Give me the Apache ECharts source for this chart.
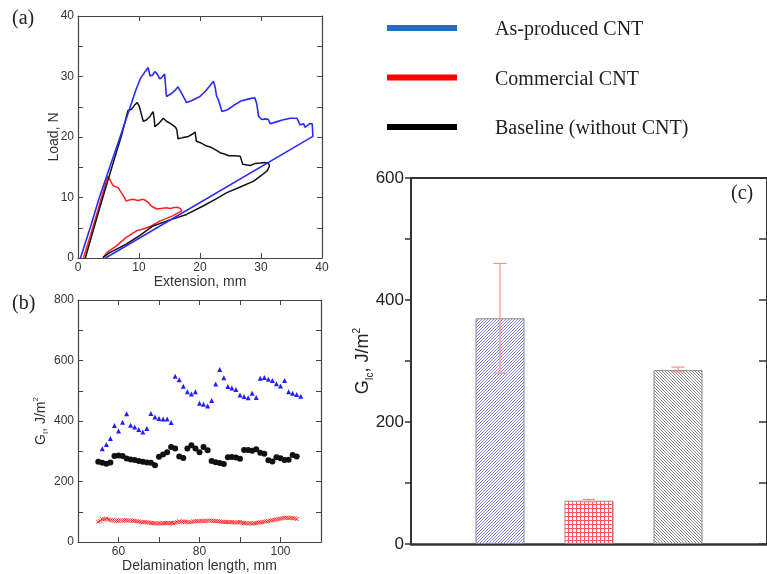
<!DOCTYPE html>
<html>
<head>
<meta charset="utf-8">
<script src="https://cdn.jsdelivr.net/npm/echarts@6/dist/echarts.min.js"></script>
<style>
  html, body { margin: 0; padding: 0; background: #fff; }
  #main { width: 767px; height: 574px; }
</style>
</head>
<body>
<div id="main"></div>
<script>
// (a) 载荷-位移曲线 [extension mm, load N]
const loadBlue = [[0.4,0],[2,5],[3.5,10],[5.2,15],[7,20.3],[8.5,24.8],[9.5,27.8],[10.2,29.6],[11,30.8],[11.5,31.5],[11.7,31.3],[11.8,30.1],[12.2,30.2],[12.6,30.8],[13,30.4],[13.4,29.6],[13.8,29.9],[14.2,30.4],[14.4,30.2],[14.5,26.7],[15.2,27.1],[16,27.8],[16.4,28.3],[16.6,27.9],[17,27.2],[17.8,25.7],[18.6,26],[20,26.7],[21,27.7],[22.2,29.2],[22.5,28.2],[22.7,26.8],[23,26.2],[23.3,25.2],[23.6,24.2],[24.5,24.5],[25.5,25.2],[26.6,25.9],[28,26.3],[29,26.5],[29.3,25.5],[29.6,23.4],[30.1,22.9],[30.8,23],[31.2,22.9],[31.5,22.2],[32.5,22.5],[33.5,22.8],[34.8,23.1],[35.9,23.1],[36.2,22.8],[36.4,22],[37,22.2],[37.2,21.6],[38,22.2],[38.4,22.2],[38.5,20.1],[4.5,0]];
const loadRed = [[0.9,0],[2,3.6],[3,7],[4,10.5],[4.6,12.6],[4.9,13.5],[5.2,13],[5.5,12.4],[5.8,11.9],[6.2,11.8],[6.6,11.6],[7.1,10.8],[7.5,10.2],[7.9,9.4],[8.4,9.6],[9,9.7],[9.8,9.5],[10.7,9.7],[11.1,9.5],[11.5,9.2],[12,8.6],[12.3,8.3],[12.9,8.1],[13.6,8.2],[14.5,8.3],[15.1,8.2],[15.6,8.3],[16.2,8.4],[16.8,8.2],[17,7.8],[15.6,7],[13.4,6.1],[11.8,5.2],[10.7,4.8],[9.6,4.5],[7.9,3.4],[6.3,2],[4.7,0.9],[4.1,0]];
const loadBlack = [[1.2,0],[2,2.8],[3.2,7],[4.5,11.5],[6,16.5],[7.2,20.5],[8.2,24.4],[8.8,24.6],[9.3,25.3],[9.7,25.7],[10,25.2],[10.2,24.5],[10.4,23.7],[10.7,22.6],[11.2,22.8],[11.8,23.4],[12.3,24.2],[12.5,23],[12.6,21.7],[13.2,22.2],[14,23.1],[14.2,23.4],[14.5,22.6],[15.2,22.2],[16,21.6],[16.2,21.2],[16.4,19.7],[17.2,19.9],[18.1,20.1],[18.8,20.5],[19.2,20.8],[19.4,19.3],[20.2,19],[21.1,18.5],[21.8,18.3],[22.5,17.9],[23.3,17.4],[24,17.2],[24.7,16.9],[25.6,16.9],[26.6,16.8],[27,15.5],[28.2,15.3],[29,15.6],[29.9,15.7],[30.6,15.8],[31.2,15.7],[31.4,15.2],[31,14.4],[30,13.6],[28.8,12.7],[26.5,11.7],[24.4,10.8],[22.5,9.7],[20.5,8.6],[17.8,7.2],[15.1,6.3],[12.3,5.3],[10.1,3.7],[7.9,2.3],[5.2,0.9],[4.1,0.1]];

// (b) G_I vs 分层长度 [mm, J/m2]
const giBlue = [[56,308],[57,322],[58,342],[59,385],[60,367],[61,396],[62,424],[63,386],[64,380],[65,372],[66,364],[67,375],[68,425],[69,413],[70,408],[71,407],[72,407],[73,395],[74,548],[75,536],[76,515],[77,497],[78,489],[79,497],[80,459],[81,455],[82,450],[83,468],[84,522],[85,570],[86,543],[87,514],[88,509],[89,504],[90,486],[91,481],[92,477],[93,492],[94,478],[95,541],[96,544],[97,538],[98,534],[99,523],[100,516],[101,534],[102,497],[103,492],[104,488],[105,482]];
const giBlack = [[55,265],[56,262],[57,259],[58,263],[59,284],[60,286],[61,284],[62,276],[63,273],[64,271],[65,268],[66,265],[67,263],[68,262],[69,254],[70,282],[71,289],[72,297],[73,314],[74,309],[75,283],[76,278],[77,309],[78,320],[79,309],[80,297],[81,314],[82,303],[83,268],[84,264],[85,261],[86,258],[87,280],[88,281],[89,279],[90,275],[91,304],[92,304],[93,302],[94,307],[95,295],[96,292],[97,270],[98,266],[99,280],[100,277],[101,271],[102,272],[103,288],[104,283]];
const giRed = [[55,67],[55.5,70],[56,75],[56.5,76],[57,77],[57.5,75],[58,72],[58.5,71],[59,71],[59.5,71],[60,70],[60.5,71],[61,71],[61.5,72],[62,72],[62.5,71],[63,71],[63.5,70],[64,70],[64.5,69],[65,68],[65.5,66],[66,65],[66.5,66],[67,65],[67.5,64],[68,63],[68.5,62],[69,62],[69.5,61],[70,62],[70.5,61],[71,62],[71.5,63],[72,62],[72.5,62],[73,63],[73.5,62],[74,64],[74.5,66],[75,68],[75.5,67],[76,68],[76.5,67],[77,66],[77.5,65],[78,66],[78.5,68],[79,69],[79.5,69],[80,69],[80.5,70],[81,69],[81.5,70],[82,70],[82.5,71],[83,70],[83.5,70],[84,69],[84.5,69],[85,68],[85.5,67],[86,67],[86.5,66],[87,66],[87.5,65],[88,66],[88.5,65],[89,64],[89.5,65],[90,66],[90.5,64],[91,63],[91.5,62],[92,61],[92.5,62],[93,61],[93.5,62],[94,63],[94.5,64],[95,65],[95.5,66],[96,67],[96.5,68],[97,69],[97.5,71],[98,72],[98.5,73],[99,75],[99.5,76],[100,77],[100.5,79],[101,80],[101.5,80],[102,79],[102.5,80],[103,79],[103.5,78],[104,76]];

// (c) G_Ic 柱状图
const gicPos = [1, 2, 3];
const gicMean = [370, 71, 285];
const gicLow = [280, 69, 282];
const gicHigh = [460, 73, 290];

const legendNames = ['As-produced CNT', 'Commercial CNT', 'Baseline (without CNT)'];
const legendColors = ['#1f6fc6', '#ff0000', '#000000'];

// 填充图案
function makePattern(kind, fg, size) {
    const c = document.createElement('canvas');
    c.width = size; c.height = size;
    const g = c.getContext('2d');
    g.fillStyle = '#ffffff';
    g.fillRect(0, 0, size, size);
    g.strokeStyle = fg;
    g.lineWidth = 1;
    g.beginPath();
    if (kind === '/') {
        for (let k = -1; k <= 1; k++) {
            g.moveTo(k * size, size); g.lineTo(k * size + size, 0);
        }
    } else if (kind === '\\') {
        for (let k = -1; k <= 1; k++) {
            g.moveTo(k * size, 0); g.lineTo(k * size + size, size);
        }
    } else {
        g.moveTo(0, 0.5); g.lineTo(size, 0.5);
        g.moveTo(0.5, 0); g.lineTo(0.5, size);
    }
    g.stroke();
    return { image: c, repeat: 'repeat' };
}
const barFills = [makePattern('/', '#8585f0', 3), makePattern('#', '#ff5858', 4), makePattern('\\', '#8a8a8a', 3)];

const chart = echarts.init(document.getElementById('main'));

const tickFont = { fontFamily: 'Liberation Sans', fontSize: 12, color: '#333' };
const boxLine = { lineStyle: { color: '#444', width: 1.2 } };

function boxAxis(gridIndex, position, min, max, interval) {
    return {
        type: 'value', gridIndex, position, min, max, interval,
        axisLine: { show: true, onZero: false, lineStyle: boxLine.lineStyle },
        axisTick: { show: true, inside: true, length: 5, lineStyle: { color: '#444' } },
        axisLabel: { show: false },
        splitLine: { show: false }
    };
}

const nameStyle = {
    fontFamily: 'Liberation Sans', fontSize: 14, color: '#333',
    rich: {
        n: { fontFamily: 'Liberation Sans', fontSize: 14, color: '#333', lineHeight: 16, verticalAlign: 'bottom' },
        sub: { fontFamily: 'Liberation Sans', fontSize: 8, color: '#333', lineHeight: 10, verticalAlign: 'bottom', padding: [0, 0, -2, 0] },
        sup: { fontFamily: 'Liberation Sans', fontSize: 8, color: '#333', lineHeight: 16, verticalAlign: 'top' }
    }
};

const option = {
    animation: false,
    backgroundColor: '#fff',
    grid: [
        { left: 78, top: 16, width: 244, height: 242 },
        { left: 78, top: 300, width: 243, height: 243 },
        { left: 411, top: 178, width: 366, height: 366 }
    ],
    xAxis: [
        {
            type: 'value', gridIndex: 0, min: 0, max: 40, interval: 10,
            name: 'Extension, mm', nameLocation: 'middle', nameGap: 17, nameMoveOverlap: false,
            nameTextStyle: { fontFamily: 'Liberation Sans', fontSize: 14, color: '#333' },
            axisLine: { show: true, onZero: false, lineStyle: boxLine.lineStyle },
            axisTick: { inside: true, length: 5, lineStyle: { color: '#444' } },
            axisLabel: Object.assign({ margin: 4 }, tickFont),
            splitLine: { show: false }
        },
        boxAxis(0, 'top', 0, 40, 10),
        {
            type: 'value', gridIndex: 1, min: 50, max: 110, interval: 10,
            name: 'Delamination length, mm', nameLocation: 'middle', nameGap: 17, nameMoveOverlap: false,
            nameTextStyle: { fontFamily: 'Liberation Sans', fontSize: 14, color: '#333' },
            axisLine: { show: true, onZero: false, lineStyle: boxLine.lineStyle },
            axisTick: { inside: true, length: 5, lineStyle: { color: '#444' } },
            axisLabel: Object.assign({ margin: 4, formatter: v => (v % 20 === 0 ? String(v) : '') }, tickFont),
            splitLine: { show: false }
        },
        boxAxis(1, 'top', 50, 110, 10),
        {
            type: 'value', gridIndex: 2, min: 0, max: 4,
            axisLine: { show: true, onZero: false, lineStyle: { color: '#333', width: 2.5 } },
            axisTick: { show: false }, axisLabel: { show: false }, splitLine: { show: false }
        },
        {
            type: 'value', gridIndex: 2, position: 'top', min: 0, max: 4,
            axisLine: { show: true, onZero: false, lineStyle: { color: '#333', width: 2 } },
            axisTick: { show: false }, axisLabel: { show: false }, splitLine: { show: false }
        }
    ],
    yAxis: [
        {
            type: 'value', gridIndex: 0, min: 0, max: 40, interval: 5,
            name: 'Load, N', nameLocation: 'middle', nameGap: 17, nameMoveOverlap: false,
            nameTextStyle: { fontFamily: 'Liberation Sans', fontSize: 14, color: '#333' },
            axisLine: { show: true, onZero: false, lineStyle: boxLine.lineStyle },
            axisTick: { inside: true, length: 5, lineStyle: { color: '#444' } },
            axisLabel: Object.assign({ margin: 4, formatter: v => (v % 10 === 0 ? String(v) : '') }, tickFont),
            splitLine: { show: false }
        },
        boxAxis(0, 'right', 0, 40, 5),
        {
            type: 'value', gridIndex: 1, min: 0, max: 800, interval: 100,
            name: '{n|G}{sub|I}{n|, J/m}{sup|2}', nameLocation: 'middle', nameGap: 30, nameMoveOverlap: false,
            nameTextStyle: nameStyle,
            axisLine: { show: true, onZero: false, lineStyle: boxLine.lineStyle },
            axisTick: { inside: true, length: 5, lineStyle: { color: '#444' } },
            axisLabel: Object.assign({ margin: 4, formatter: v => (v % 200 === 0 ? String(v) : '') }, tickFont),
            splitLine: { show: false }
        },
        boxAxis(1, 'right', 0, 800, 100),
        {
            type: 'value', gridIndex: 2, min: 0, max: 600, interval: 100,
            name: '{n|G}{sub|Ic}{n|, J/m}{sup|2}', nameLocation: 'middle', nameGap: 39, nameMoveOverlap: false,
            nameTextStyle: {
                rich: {
                    n: { fontFamily: 'Liberation Sans', fontSize: 18, color: '#222', lineHeight: 20, verticalAlign: 'bottom' },
                    sub: { fontFamily: 'Liberation Sans', fontSize: 10, color: '#222', lineHeight: 12, verticalAlign: 'bottom', padding: [0, 0, -3, 0] },
                    sup: { fontFamily: 'Liberation Sans', fontSize: 10, color: '#222', lineHeight: 20, verticalAlign: 'top' }
                }
            },
            axisLine: { show: true, onZero: false, lineStyle: { color: '#333', width: 2 } },
            axisTick: { inside: false, length: 6, lineStyle: { color: '#333', width: 1.5 } },
            axisLabel: { margin: 7, fontFamily: 'Liberation Sans', fontSize: 17, color: '#222',
                formatter: v => (v % 200 === 0 ? String(v) : '') },
            splitLine: { show: false }
        },
        {
            type: 'value', gridIndex: 2, position: 'right', min: 0, max: 600, interval: 100,
            axisLine: { show: true, onZero: false, lineStyle: { color: '#333', width: 2 } },
            axisTick: { inside: true, length: 8, lineStyle: { color: '#333', width: 1.5 } },
            axisLabel: { show: false }, splitLine: { show: false }
        }
    ],
    series: [
        { type: 'line', xAxisIndex: 0, yAxisIndex: 0, data: loadRed, showSymbol: false, lineStyle: { color: '#ff2020', width: 1.5 } },
        { type: 'line', xAxisIndex: 0, yAxisIndex: 0, data: loadBlack, showSymbol: false, lineStyle: { color: '#111', width: 1.5 } },
        { type: 'line', xAxisIndex: 0, yAxisIndex: 0, data: loadBlue, showSymbol: false, lineStyle: { color: '#2a2aff', width: 1.6 } },

        { type: 'scatter', xAxisIndex: 2, yAxisIndex: 2, data: giBlue, symbol: 'triangle', symbolSize: 5, itemStyle: { color: '#2020ff', opacity: 1 } },
        { type: 'scatter', xAxisIndex: 2, yAxisIndex: 2, data: giBlack, symbol: 'circle', symbolSize: 6, itemStyle: { color: '#111', opacity: 1 } },
        { type: 'scatter', xAxisIndex: 2, yAxisIndex: 2, data: giRed, symbol: 'path://M0,0L10,10M10,0L0,10', symbolSize: 4,
          itemStyle: { color: 'none', borderColor: '#ff3030', borderWidth: 1, opacity: 1 } },

        {
            type: 'bar', xAxisIndex: 4, yAxisIndex: 4, barWidth: 49,
            data: gicPos.map((p, i) => ({
                value: [p, gicMean[i]],
                itemStyle: { color: barFills[i], borderColor: '#888', borderWidth: 1 }
            }))
        },
        {
            type: 'custom', xAxisIndex: 4, yAxisIndex: 4, z: 10,
            data: gicPos.map((p, i) => [p, gicLow[i], gicHigh[i]]),
            renderItem: function (params, api) {
                const top = api.coord([api.value(0), api.value(2)]);
                const bot = api.coord([api.value(0), api.value(1)]);
                const w = 6.5;
                const st = { stroke: '#ff8c8c', lineWidth: 1.2 };
                return {
                    type: 'group',
                    children: [
                        { type: 'line', shape: { x1: top[0], y1: top[1], x2: bot[0], y2: bot[1] }, style: st },
                        { type: 'line', shape: { x1: top[0] - w, y1: top[1], x2: top[0] + w, y2: top[1] }, style: st },
                        { type: 'line', shape: { x1: bot[0] - w, y1: bot[1], x2: bot[0] + w, y2: bot[1] }, style: st }
                    ]
                };
            }
        }
    ],
    graphic: [
        { type: 'text', left: 12, top: 9, style: { text: '(a)', font: '20px "Liberation Serif"', fill: '#222' } },
        { type: 'text', left: 12, top: 294, style: { text: '(b)', font: '20px "Liberation Serif"', fill: '#222' } },
        { type: 'text', left: 731, top: 184, style: { text: '(c)', font: '20px "Liberation Serif"', fill: '#222' } }
    ].concat(legendNames.flatMap((name, i) => [
        { type: 'rect', shape: { x: 387, y: 25 + i * 49.5, width: 70, height: 6 }, style: { fill: legendColors[i] } },
        { type: 'text', x: 495, y: 30 + i * 49.5, style: { text: name, font: '20px "Liberation Serif"', fill: '#222', verticalAlign: 'middle' } }
    ]))
};

chart.setOption(option);
</script>
</body>
</html>
